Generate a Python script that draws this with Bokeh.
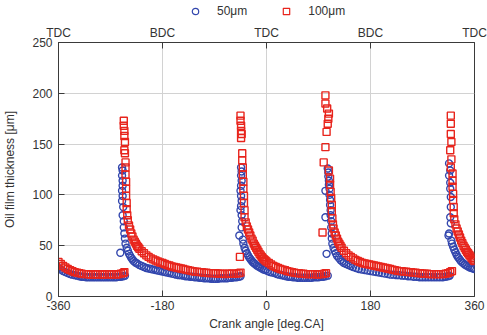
from bokeh.plotting import figure
from bokeh.layouts import column
from bokeh.models import LinearAxis, FixedTicker, Legend, LegendItem, Range1d
from bokeh.embed import file_html
from bokeh.resources import INLINE

# ---------------- data ----------------
x_ticks = [-360, -180, 0, 180, 360]
x_tick_labels = ["-360", "-180", "0", "180", "360"]
stroke_labels = ["TDC", "BDC", "TDC", "BDC", "TDC"]
y_ticks = [0, 50, 100, 150, 200, 250]
series_names = ["50μm", "100μm"]

# 50 μm liner (blue circles): (crank angle, oil film thickness)
points_50 = [
    (-360, 28), (-356, 26.5), (-352, 25), (-348, 24), (-344, 23), (-340, 22), (-336, 21.5), (-332, 21),
    (-328, 20.5), (-324, 20), (-320, 19.5), (-316, 19.5), (-312, 19), (-308, 19), (-304, 19), (-300, 19),
    (-296, 19), (-292, 19), (-288, 19), (-284, 19), (-280, 19), (-276, 19), (-272, 19), (-268, 19),
    (-264, 19), (-260, 19), (-256, 19.5), (-252, 19.5), (-248, 20), (-245, 20.5),
    (-253, 43), (-250, 127), (-249, 124), (-250, 119), (-249, 114), (-249, 109), (-250, 104), (-249, 99),
    (-250, 94), (-248, 88), (-249, 80), (-247, 74), (-247, 68), (-246, 62), (-245, 57), (-244, 52),
    (-242, 48), (-240, 45), (-238, 42), (-236, 40), (-234, 38), (-232, 36.5), (-230, 35), (-227, 33.5),
    (-224, 32.5), (-220, 31), (-216, 30), (-212, 29), (-208, 28), (-204, 27.5), (-200, 27), (-196, 26.5),
    (-192, 26), (-188, 25.5), (-184, 25), (-180, 24.5), (-176, 24), (-172, 23.5), (-168, 23), (-164, 22.5),
    (-160, 22), (-156, 21.5), (-152, 21), (-148, 21), (-144, 20.5), (-140, 20), (-136, 20), (-132, 19.5),
    (-128, 19.5), (-124, 19), (-120, 19), (-116, 18.5), (-112, 18.5), (-108, 18), (-104, 18), (-100, 18),
    (-96, 17.5), (-92, 17.5), (-88, 17.5), (-84, 17.5), (-80, 18), (-76, 18), (-72, 18), (-68, 18),
    (-64, 18.5), (-60, 18.5), (-56, 19), (-52, 19), (-48, 19.5), (-45, 20),
    (-44, 127), (-43, 123), (-44, 119), (-43, 114), (-44, 109), (-45, 104), (-44, 99), (-43, 94),
    (-44, 89), (-45, 85), (-43, 80), (-42, 74), (-43, 68), (-47, 60), (-41, 56), (-40, 52),
    (-38, 48), (-36, 45), (-34, 42.5), (-32, 40.5), (-30, 38.5), (-28, 37), (-26, 35.5), (-24, 34),
    (-22, 33), (-20, 32), (-17, 30.5), (-14, 29.5), (-11, 28.5), (-8, 27.5), (-5, 26.5), (-2, 26),
    (2, 25), (6, 24), (10, 23.5), (14, 23), (18, 22), (22, 21.5), (26, 21), (30, 20.5), (34, 20),
    (38, 19.5), (42, 19.5), (46, 19), (50, 19), (54, 18.5), (58, 18.5), (62, 18.5), (66, 18.5),
    (70, 18.5), (74, 18.5), (78, 18.5), (82, 19), (86, 19), (90, 19), (94, 19.5), (98, 19.5),
    (102, 20), (106, 20.5),
    (104, 42), (102, 78), (102, 104), (106, 126), (107, 122), (107, 118), (108, 114), (108, 110),
    (109, 106), (109, 100), (110, 95), (110, 90), (111, 85), (111, 80), (112, 74), (112, 68),
    (113, 62), (113, 57), (114, 52),
    (116, 48), (118, 45), (120, 42.5), (122, 40), (125, 38), (128, 36), (131, 34.5), (134, 33),
    (138, 32), (142, 31), (146, 30), (150, 29), (155, 28), (160, 27), (165, 26.5), (170, 26),
    (175, 25.5), (180, 25), (185, 24.5), (190, 24), (195, 23.5), (200, 23), (205, 22.5), (210, 22),
    (215, 21.5), (220, 21.5), (225, 21), (230, 21), (235, 20.5), (240, 20.5), (245, 20), (250, 20),
    (255, 19.5), (260, 19.5), (265, 19), (270, 19), (275, 19), (280, 19), (285, 19), (290, 19),
    (295, 19), (300, 19), (305, 19), (310, 19.5), (314, 20), (317, 20.5),
    (316, 131), (318, 124), (316, 119), (318, 112), (318, 106), (319, 98), (319, 88), (318, 78),
    (319, 72), (316, 62), (315, 60), (320, 55),
    (321, 52), (323, 49), (325, 46), (327, 43.5), (329, 41), (331, 39), (333, 37.5), (335, 36),
    (337, 34.5), (340, 33), (343, 31.5), (346, 30.5), (349, 29.5), (352, 28.5), (355, 28), (358, 27.5),
    (360, 27),
]

# 100 μm liner (red squares): (crank angle, oil film thickness)
points_100 = [
    (-360, 34), (-356, 32), (-352, 30), (-348, 28.5), (-344, 27), (-340, 26), (-336, 25), (-332, 24),
    (-328, 23.5), (-324, 23), (-320, 22.5), (-316, 22), (-312, 22), (-308, 22), (-304, 21.5), (-300, 21.5),
    (-296, 22), (-292, 22), (-288, 21.5), (-284, 21.5), (-280, 22), (-276, 22), (-272, 21.5), (-268, 22),
    (-264, 22), (-260, 21.5), (-256, 22), (-252, 22.5), (-248, 23), (-246, 24),
    (-247, 173), (-247, 168), (-246, 163), (-246, 158), (-245, 152), (-246, 144), (-245, 141), (-244, 132),
    (-244, 127), (-244, 120), (-243, 113), (-243, 106), (-243, 99), (-242, 92), (-242, 86), (-241, 80),
    (-240, 75), (-238, 70), (-236, 66), (-234, 62), (-232, 59), (-230, 56), (-228, 54), (-226, 52),
    (-224, 50), (-222, 48.5), (-220, 47), (-216, 44.5), (-212, 42.5), (-208, 40.5), (-204, 39),
    (-200, 37.5), (-196, 36.5), (-192, 35.5), (-188, 34.5), (-184, 33.5), (-180, 33), (-176, 32),
    (-172, 31), (-168, 30.5), (-164, 29.5), (-160, 29), (-156, 28.5), (-152, 28), (-148, 27.5),
    (-144, 27), (-140, 26.5), (-136, 26), (-132, 25.5), (-128, 25), (-124, 24.5), (-120, 24.5),
    (-116, 24), (-112, 24), (-108, 23.5), (-104, 23.5), (-100, 23), (-96, 23), (-92, 23), (-88, 23),
    (-84, 22.5), (-80, 22.5), (-76, 22.5), (-72, 22), (-68, 22.5), (-64, 22.5), (-60, 22.5), (-56, 22.5),
    (-52, 22.5), (-48, 23), (-45, 23.5),
    (-45, 178), (-45, 173), (-44, 168), (-44, 163), (-43, 160), (-44, 156), (-42, 141), (-42, 134),
    (-41, 127), (-41, 120), (-40, 113), (-40, 106), (-39, 99), (-39, 92), (-38, 85), (-38, 78), (-46, 39),
    (-36, 73), (-34, 69), (-32, 66), (-30, 63), (-28, 60), (-26, 57), (-24, 55), (-22, 52), (-20, 50),
    (-18, 48), (-16, 46), (-14, 44), (-12, 42), (-10, 40.5), (-8, 39), (-6, 37.5), (-4, 36.5), (-2, 35.5),
    (0, 34.5), (4, 33), (8, 31.5), (12, 30), (16, 29), (20, 28), (24, 27), (28, 26.5), (32, 26), (36, 25),
    (40, 24.5), (44, 24), (48, 23.5), (52, 23), (56, 23), (60, 22.5), (64, 22.5), (68, 22), (72, 22),
    (76, 22), (80, 22), (84, 22), (88, 21.5), (92, 22), (96, 22), (100, 22.5), (103, 23),
    (102, 198), (102, 190), (105, 185), (108, 180), (107, 175), (106, 170), (104, 162), (102, 147),
    (99, 132), (108, 124), (110, 116), (110, 110), (111, 103), (112, 97), (113, 90), (113, 84),
    (114, 77), (115, 71), (97, 63),
    (116, 67), (118, 63), (120, 60), (122, 57), (124, 54), (126, 52), (128, 50), (130, 48), (134, 45),
    (138, 42.5), (142, 40.5), (146, 39), (150, 37.5), (154, 36), (158, 35), (162, 34), (166, 33),
    (170, 32.5), (174, 32), (178, 31.5), (182, 31), (186, 30.5), (190, 30), (194, 29.5), (198, 29),
    (202, 28.5), (206, 28), (210, 27.5), (214, 27), (218, 26.5), (222, 26), (226, 25.5), (230, 25),
    (234, 25), (238, 24.5), (242, 24.5), (246, 24), (250, 24), (254, 23.5), (258, 23.5), (262, 23),
    (266, 23), (270, 22.5), (274, 22.5), (278, 22.5), (282, 22), (286, 22), (290, 22), (294, 22),
    (298, 22), (302, 22), (306, 22), (310, 22.5), (314, 23), (318, 24), (321, 25),
    (319, 178), (319, 170), (319, 160), (320, 152), (318, 144), (320, 135), (319, 127), (322, 121),
    (322, 114), (322, 108), (323, 101), (323, 95), (324, 88), (324, 82), (325, 76),
    (327, 71), (329, 67), (331, 64), (333, 61), (335, 58), (337, 55), (339, 52.5), (341, 50), (343, 48),
    (345, 46), (347, 44), (349, 42.5), (351, 41), (353, 39.5), (355, 38), (357, 36.5), (359, 35.5),
    (360, 35),
]

angle_50 = [a for a, _ in points_50]
film_50 = [v for _, v in points_50]
angle_100 = [a for a, _ in points_100]
film_100 = [v for _, v in points_100]

# ---------------- style ----------------
FONT = "Liberation Sans"
BLUE = "#3246ad"
RED = "#e8241c"
TEXT = "#333333"
FRAME = "#3a3a3a"
LEGEND_H = 22
MARKER_LW = 1.4

# ---- legend strip (own small figure above the chart; swatch renderers sit outside its range) ----
lg = figure(width=487, height=LEGEND_H, x_range=Range1d(0, 1), y_range=Range1d(0, 1),
            output_backend="svg", toolbar_location=None,
            x_axis_location=None, y_axis_location=None, min_border=0)
lg.outline_line_color = None
lg.grid.visible = False
lr50 = lg.scatter([-5], [-5], marker="circle", size=7, fill_color=None, line_color=BLUE, line_width=1.2)
lr100 = lg.scatter([-5], [-5], marker="square", size=7, fill_color=None, line_color=RED, line_width=1.2)
legend = Legend(items=[LegendItem(label=series_names[0], renderers=[lr50]),
                       LegendItem(label=series_names[1], renderers=[lr100])],
                orientation="horizontal", location=(128, 3),
                background_fill_alpha=0, border_line_alpha=0, padding=0, margin=0,
                glyph_width=18, glyph_height=16, label_standoff=13, spacing=30,
                label_text_font=FONT, label_text_font_size="12px", label_text_color=TEXT)
lg.add_layout(legend)

# ---- main chart ----
p = figure(width=487, height=335 - LEGEND_H, x_range=Range1d(-360, 360), y_range=Range1d(0, 250),
           output_backend="svg", toolbar_location=None,
           min_border_left=58, min_border_right=13, min_border_top=42 - LEGEND_H,
           min_border_bottom=39)
p.outline_line_color = FRAME
p.outline_line_width = 1
p.background_fill_color = "white"

r50 = p.scatter(angle_50, film_50, marker="circle", size=7, fill_color=None,
                line_color=BLUE, line_width=MARKER_LW)
r100 = p.scatter(angle_100, film_100, marker="square", size=7, fill_color=None,
                 line_color=RED, line_width=MARKER_LW)

xa = p.xaxis[0]
xa.ticker = FixedTicker(ticks=x_ticks)
xa.major_label_overrides = {t: s for t, s in zip(x_ticks, x_tick_labels)}
xa.axis_label = "Crank angle [deg.CA]"
ya = p.yaxis[0]
ya.ticker = FixedTicker(ticks=y_ticks)
ya.axis_label = "Oil film thickness [μm]"

top = LinearAxis(ticker=FixedTicker(ticks=x_ticks),
                 major_label_overrides={t: s for t, s in zip(x_ticks, stroke_labels)})
p.add_layout(top, "above")

for ax in (xa, ya, top):
    ax.axis_line_color = FRAME
    ax.major_tick_line_color = FRAME
    ax.major_tick_in = 6
    ax.major_tick_out = 0
    ax.minor_tick_line_color = None
    ax.major_label_text_font = FONT
    ax.major_label_text_font_size = "12px"
    ax.major_label_text_color = TEXT
    ax.axis_label_text_font = FONT
    ax.axis_label_text_font_size = "12px"
    ax.axis_label_text_font_style = "normal"
    ax.axis_label_text_color = TEXT

xa.major_label_standoff = 4
xa.axis_label_standoff = 4
ya.major_label_standoff = 6
ya.axis_label_standoff = 12
top.major_label_standoff = 3

p.xgrid.ticker = FixedTicker(ticks=x_ticks)
p.ygrid.ticker = FixedTicker(ticks=y_ticks)
p.grid.grid_line_color = "#d2d2d2"
p.grid.grid_line_width = 1

layout = column(lg, p, spacing=0)
open("out.html", "w").write(file_html(layout, INLINE))
